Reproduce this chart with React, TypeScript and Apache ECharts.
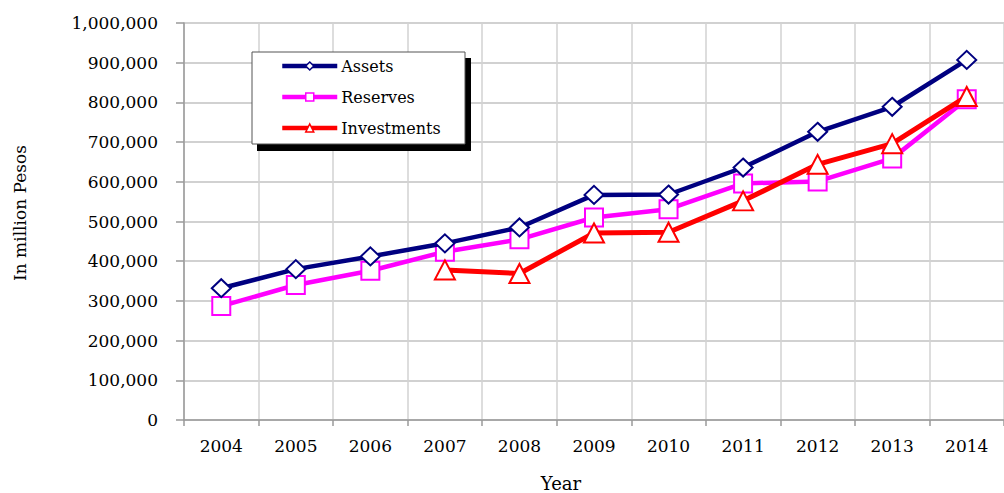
import React, { useEffect, useRef } from "react";
import * as echarts from "echarts";

const years = ["2004", "2005", "2006", "2007", "2008", "2009", "2010", "2011", "2012", "2013", "2014"];
const assets = [332000, 380000, 412000, 445000, 485000, 567000, 568000, 636000, 726000, 789000, 907000];
const reserves = [287000, 340000, 376000, 424000, 455000, 510000, 531000, 596000, 601000, 659000, 808000];
const investments = [null, null, null, 378000, 369000, 471000, 473000, 552000, 644000, 696000, 815000];
const seriesNames = ["Assets", "Reserves", "Investments"];

const FONT = "'DejaVu Serif', 'Liberation Serif', serif";

export default function App() {
  const ref = useRef<HTMLDivElement>(null);
  useEffect(() => {
    const chart = echarts.init(ref.current!, null, { renderer: "svg" });
    const fmt = (v: number) => v.toLocaleString("en-US");
    chart.setOption({
      animation: false,
      backgroundColor: "#ffffff",
      textStyle: { fontFamily: FONT },
      grid: { left: 184, top: 23, width: 832, height: 397, containLabel: false },
      xAxis: {
        type: "category",
        data: years,
        boundaryGap: true,
        axisLine: { lineStyle: { color: "#9a9a9a", width: 1.5 } },
        axisTick: { show: true, length: 6, lineStyle: { color: "#9a9a9a", width: 1.5 } },
        axisLabel: { color: "#000", fontSize: 17, fontFamily: FONT, margin: 17 },
        splitLine: { show: true, lineStyle: { color: "#d2d2d2", width: 1.5 } },
      },
      yAxis: {
        type: "value",
        min: 0,
        max: 1000000,
        interval: 100000,
        axisLine: { show: true, lineStyle: { color: "#9a9a9a", width: 1.5 } },
        axisTick: { show: true, length: 8, lineStyle: { color: "#9a9a9a", width: 1.5 } },
        axisLabel: { color: "#000", fontSize: 17, fontFamily: FONT, margin: 26, formatter: fmt },
        splitLine: { show: true, lineStyle: { color: "#c2c2c2", width: 1.5 } },
      },
      legend: {
        show: true,
        orient: "vertical",
        left: 280,
        top: 58,
        itemWidth: 55,
        itemHeight: 10,
        itemGap: 15,
        padding: 0,
        z: 20,
        data: seriesNames,
        lineStyle: { width: 4.5 },
        itemStyle: { borderWidth: 1.5 },
        textStyle: { color: "#000", fontSize: 16, fontFamily: FONT, padding: [0, 0, 0, -1] },
      },
      graphic: [
        { type: "rect", z: 15, shape: { x: 257, y: 58, width: 214, height: 93 }, style: { fill: "#000" } },
        { type: "rect", z: 16, shape: { x: 252, y: 52, width: 213, height: 92 }, style: { fill: "#fff", stroke: "#555", lineWidth: 1 } },
        { type: "text", z: 16, x: 20, y: 213, rotation: Math.PI / 2, style: { text: "In million Pesos", font: `17px ${FONT}`, fill: "#000", align: "center", verticalAlign: "middle" } },
        { type: "text", z: 16, x: 561, y: 483, style: { text: "Year", font: `18px ${FONT}`, fill: "#000", align: "center", verticalAlign: "middle" } },
      ],
      series: [
        {
          name: seriesNames[0],
          type: "line",
          data: assets,
          color: "#000080",
          symbol: "diamond",
          symbolSize: [19, 18],
          lineStyle: { color: "#000080", width: 4.5 },
          itemStyle: { color: "#fff", borderColor: "#000080", borderWidth: 2 },
          z: 5,
        },
        {
          name: seriesNames[1],
          type: "line",
          data: reserves,
          color: "#ff00ff",
          symbol: "rect",
          symbolSize: 18,
          lineStyle: { color: "#ff00ff", width: 4.5 },
          itemStyle: { color: "#fff", borderColor: "#ff00ff", borderWidth: 2 },
          z: 4,
        },
        {
          name: seriesNames[2],
          type: "line",
          data: investments,
          color: "#ff0000",
          symbol: "triangle",
          symbolSize: [20, 19],
          lineStyle: { color: "#ff0000", width: 5 },
          itemStyle: { color: "#fff", borderColor: "#ff0000", borderWidth: 2 },
          z: 6,
        },
      ],
    });
    return () => chart.dispose();
  }, []);
  return <div ref={ref} style={{ position: "absolute", left: 0, top: 0, width: 1004, height: 493 }} />;
}
